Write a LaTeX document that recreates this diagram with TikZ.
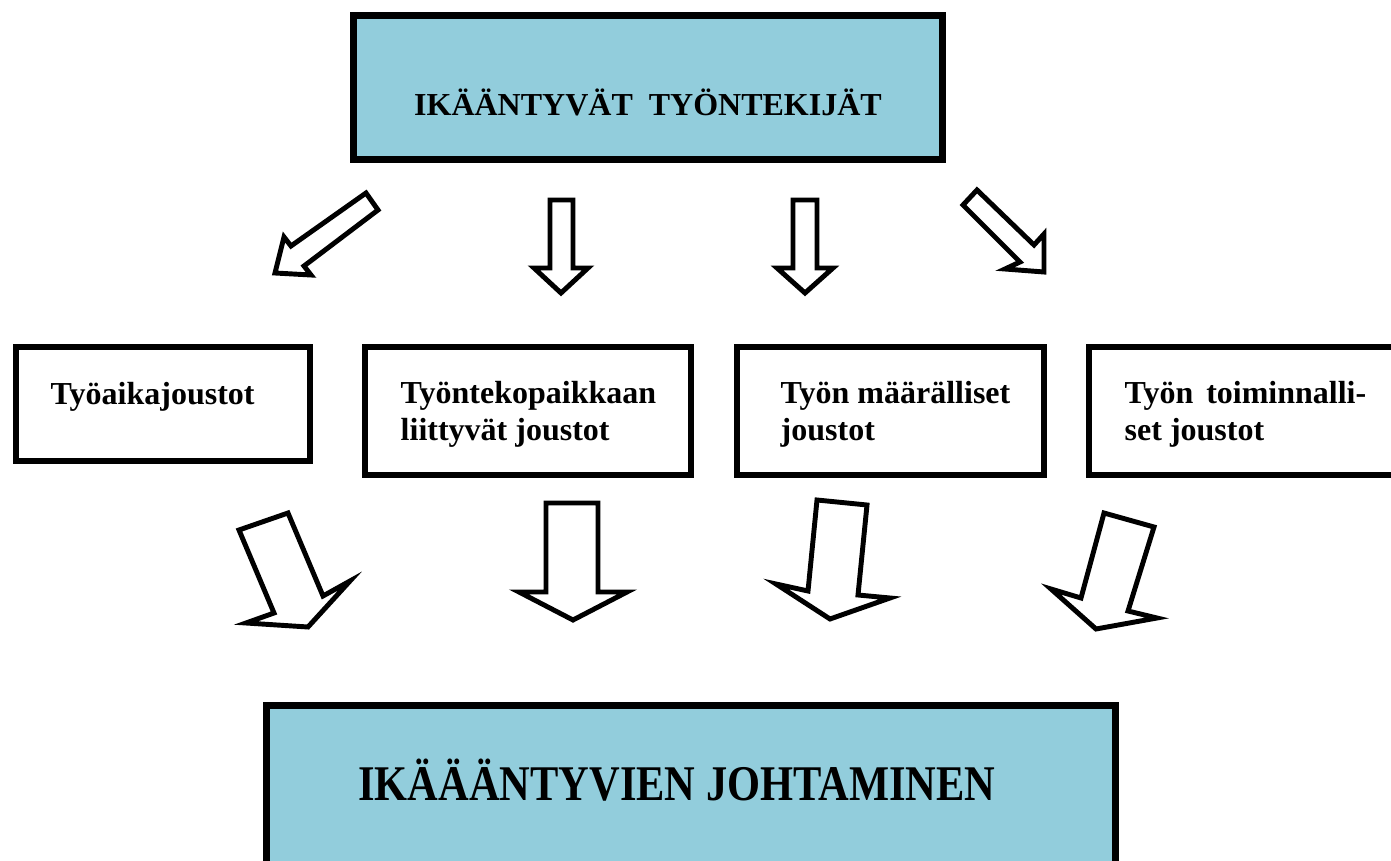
\documentclass[tikz,border=0pt]{standalone}
\usepackage{fontspec}
\setmainfont{Liberation Serif}
\newfontfamily\widefont[FakeStretch=0.85]{Liberation Serif}
\definecolor{aquablue}{RGB}{146,205,220}

\begin{document}
\begin{tikzpicture}[x=0.01cm,y=-0.01cm,
  every node/.style={font=\bfseries\fontsize{9.1}{10.5}\selectfont},
  headbox/.style={draw,rectangle,line width=2pt,fill=aquablue,inner sep=0pt},
  flexbox/.style={draw,rectangle,line width=1.6pt,inner sep=0pt,minimum height=1.28cm},
  flextext/.style={inner sep=0pt,align=left,anchor=base west},
  hollow/.style={draw,line width=1.4pt,fill=white,line join=miter}]
\path[use as bounding box,clip] (0,0) rectangle (1391,861);

\node[headbox,minimum width=5.89cm,minimum height=1.44cm] (workers) at (648,87.5) {};
\node[anchor=base,inner sep=0pt] (workers title) at (648,116) {IKÄÄNTYVÄT\ \ TYÖNTEKIJÄT};

\node[flexbox,minimum width=2.94cm,minimum height=1.14cm] (worktime) at (163,404) {};
\node[flextext] (worktime text) at (50,405) {Työaikajoustot};
\node[flexbox,minimum width=3.26cm] (workplace) at (528,411) {};
\node[flextext] (workplace text) at (400,440) {Työntekopaikkaan\\liittyvät joustot};
\node[flexbox,minimum width=3.07cm] (quantity) at (890.5,411) {};
\node[flextext] (quantity text) at (780,440) {Työn määrälliset\\joustot};
\node[flexbox,minimum width=3.21cm] (function) at (1249.5,411) {};
\node[flextext] (function text) at (1124,440) {Työn\hspace{0.4em}toiminnalli-\\set joustot};

\node[headbox,minimum width=8.49cm,minimum height=1.94cm] (management) at (691,803) {};
\node[anchor=base,inner sep=0pt,font=\widefont\bfseries\fontsize{14.2}{16}\selectfont] (management title) at (677,800) {IKÄÄÄNTYVIEN JOHTAMINEN};

% arrows from the top box
\draw[hollow] (366,193) -- (378,210) -- (304,266) -- (311,275) -- (275,273) -- (284,237) -- (291,246) -- cycle;
\draw[hollow] (550,200) -- (573,200) -- (573,268) -- (588,268) -- (561,293) -- (534,268) -- (550,268) -- cycle;
\draw[hollow] (793,200) -- (817,200) -- (817,268) -- (833,268) -- (805,293) -- (777,268) -- (793,268) -- cycle;
\draw[hollow] (977,190) -- (963,205) -- (1020,262) -- (1005,269) -- (1044,272) -- (1044,234) -- (1034,245) -- cycle;

% arrows to the bottom box
\draw[hollow] (239,530) -- (288,513) -- (323,596) -- (350,581) -- (308,627) -- (246,623) -- (274,613) -- cycle;
\draw[hollow] (546,503) -- (598,503) -- (598,592) -- (627,592) -- (573,620) -- (519,592) -- (546,592) -- cycle;
\draw[hollow] (817,500) -- (867,505) -- (858,595) -- (890,598) -- (830,619) -- (776,584) -- (808,591) -- cycle;
\draw[hollow] (1104,513) -- (1154,527) -- (1128,611) -- (1157,618) -- (1096,629) -- (1051,589) -- (1081,598) -- cycle;
\end{tikzpicture}
\end{document}
